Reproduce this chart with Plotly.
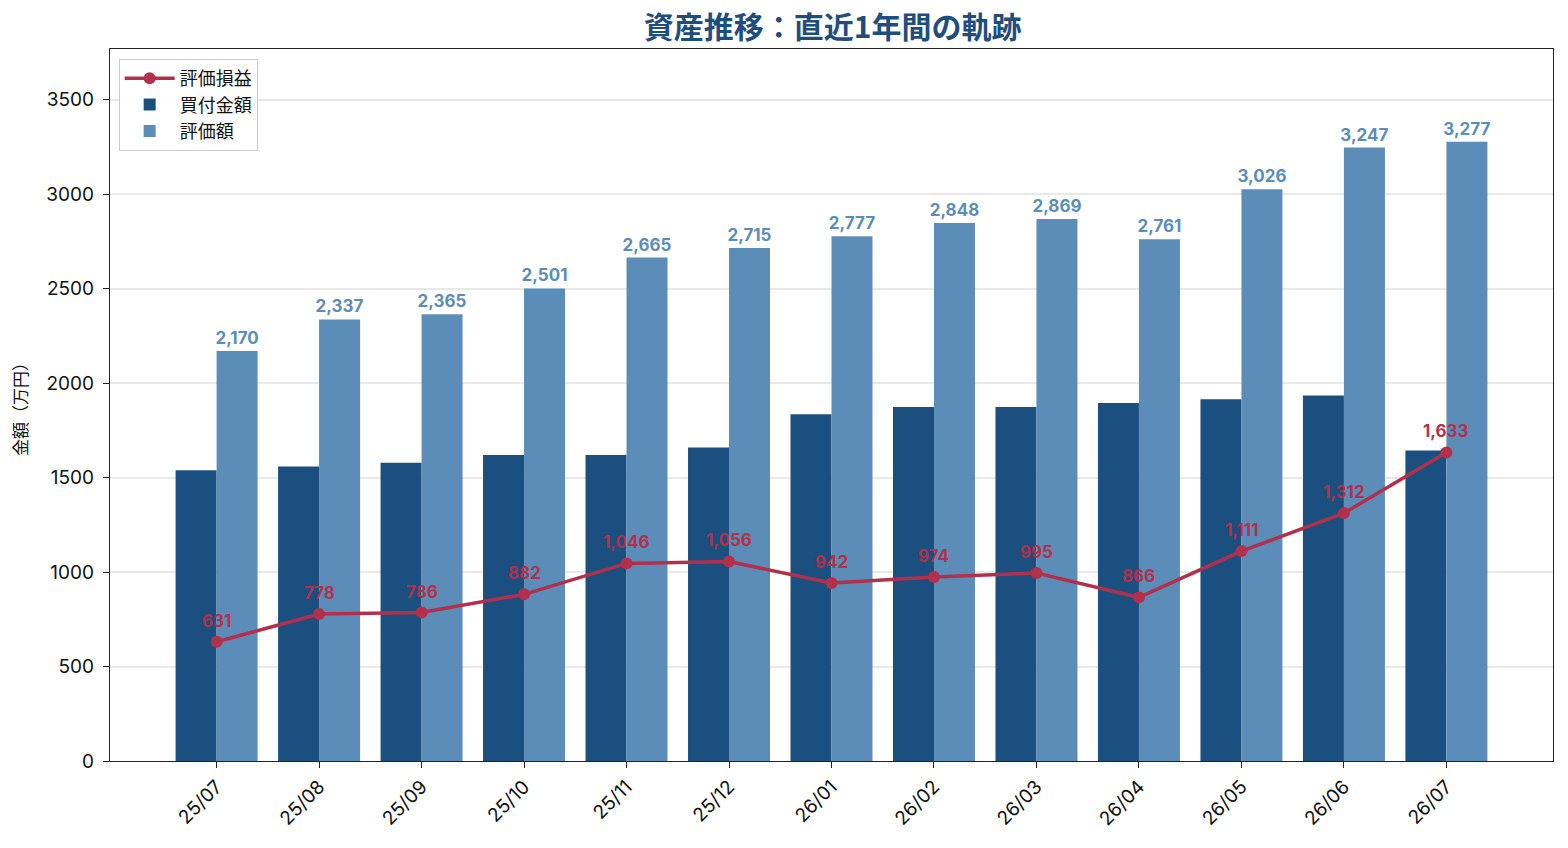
import plotly.graph_objects as go

months = ["25/07", "25/08", "25/09", "25/10", "25/11", "25/12", "26/01",
          "26/02", "26/03", "26/04", "26/05", "26/06", "26/07"]
valuation = [2170, 2337, 2365, 2501, 2665, 2715, 2777, 2848, 2869, 2761, 3026, 3247, 3277]
gain = [631, 778, 786, 882, 1046, 1056, 942, 974, 995, 866, 1111, 1312, 1633]
cost = [v - g for v, g in zip(valuation, gain)]

FONT = "Inter, Noto Sans CJK JP"
C_COST = "#1B4F80"
C_VAL = "#5B8DB8"
C_GAIN = "#B3304C"
C_TITLE = "#1F4E7E"

fig = go.Figure()
fig.add_trace(go.Bar(
    x=months, y=cost, name="買付金額", marker=dict(color=C_COST, line=dict(width=0)),
    legendrank=2,
))
fig.add_trace(go.Bar(
    x=months, y=valuation, name="評価額", marker=dict(color=C_VAL, line=dict(width=0)),
    text=[f"{v:,}" for v in valuation], textposition="outside", cliponaxis=False,
    constraintext="none",
    textfont=dict(color=C_VAL, size=17, family=FONT, weight="bold"),
    legendrank=3,
))
fig.add_trace(go.Scatter(
    x=months, y=gain, name="評価損益", mode="lines+markers",
    line=dict(color=C_GAIN, width=3.5), marker=dict(color=C_GAIN, size=12),
    legendrank=1,
))

for m, g in zip(months, gain):
    fig.add_annotation(x=m, y=g, text=f"<b>{g:,}</b>", showarrow=False,
                       yshift=21, font=dict(color=C_GAIN, size=17, family=FONT))

ymax = max(valuation) * 1.15
fig.update_layout(
    width=1568, height=848,
    margin=dict(l=110, r=15, t=49, b=87),
    paper_bgcolor="white", plot_bgcolor="white",
    font=dict(family=FONT, color="#111111", size=19),
    barmode="group", bargap=0.2, bargroupgap=0,
    title=dict(text="<b>資産推移：直近1年間の軌跡</b>", x=0.531, xanchor="center",
               y=0.968, yanchor="middle",
               font=dict(size=30, color=C_TITLE, family="Noto Sans CJK JP", weight=900)),
    legend=dict(x=0.006, y=0.986, xanchor="left", yanchor="top",
                bgcolor="rgba(255,255,255,0.85)", bordercolor="#cccccc", borderwidth=1,
                font=dict(size=18, family="Noto Sans CJK JP"), tracegroupgap=2, itemwidth=50),
    showlegend=True,
)
fig.update_xaxes(
    type="category", range=[-1.04, 13.04], tickangle=-45,
    showline=True, linecolor="#222222", linewidth=1.3, mirror=True,
    ticks="outside", ticklen=6, tickcolor="#222222", tickwidth=1.3,
    tickfont=dict(size=19), showgrid=False, automargin=False,
)
fig.update_yaxes(
    range=[0, ymax], dtick=500, tick0=0,
    showline=True, linecolor="#222222", linewidth=1.3, mirror=True,
    ticks="outside", ticklen=6, tickcolor="#222222", tickwidth=1.3,
    tickfont=dict(size=19), ticklabelstandoff=5,
    showgrid=True, gridcolor="rgba(215,215,215,0.55)", gridwidth=1.5,
    layer="above traces", zeroline=False, automargin=False,
    title=dict(text="金額（万円）", font=dict(size=17, family="Noto Sans CJK JP"), standoff=14),
)

fig.write_html("out.html")
